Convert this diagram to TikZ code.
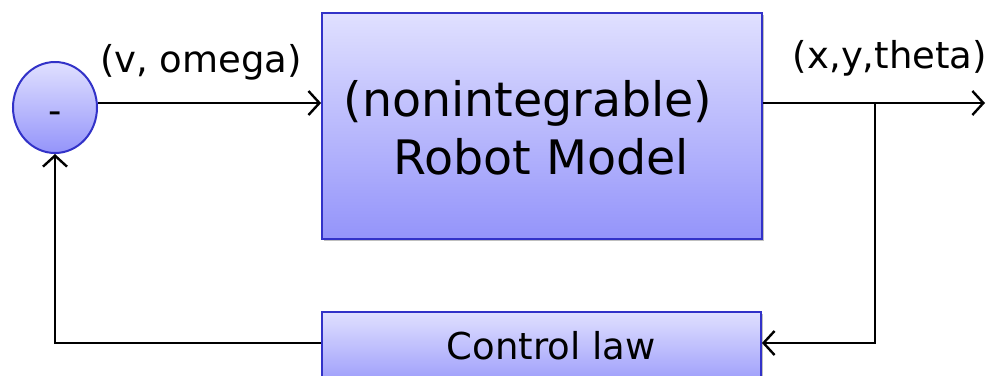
\documentclass[tikz,border=0pt]{standalone}
\usepackage{fontspec}
\setmainfont{DejaVu Sans}
\usetikzlibrary{shapes.geometric,shadows,arrows.meta}
\definecolor{boxtop}{RGB}{224,224,255}
\definecolor{boxbot}{RGB}{148,148,250}
\definecolor{boxline}{RGB}{50,50,200}
\begin{document}
\begin{tikzpicture}[x=1pt,y=-1pt,
  blockbox/.style={draw=boxline, line width=1.8pt, top color=boxtop, bottom color=boxbot,
    drop shadow={shadow xshift=2pt, shadow yshift=-2pt, opacity=0.25, fill=black}, inner sep=0pt},
  sumcirc/.style={ellipse, draw=boxline, line width=2pt, top color=boxtop, bottom color=boxbot,
    minimum width=84pt, minimum height=91pt, inner sep=0pt},
  conn/.style={line width=2.4pt, draw=black},
  arr/.style={conn, -{Straight Barb[length=11pt,width=24pt,line width=2.4pt]}},
  lbl/.style={font=\fontsize{37}{44}\selectfont, inner sep=0pt, anchor=base},
  big/.style={font=\fontsize{47.5}{57}\selectfont, inner sep=0pt, anchor=base}
]
\useasboundingbox (0,0) rectangle (998,375);
\fill[white] (0,0) rectangle (998,375);

% nodes
\node[sumcirc] (circ) at (55,107.5) {};
\node[lbl] (minus) at (55,123) {-};
\node[blockbox, minimum width=440pt, minimum height=226pt] (robot) at (542,126) {};
\node[big] (t1) at (528,116) {(nonintegrable)};
\node[big] (t2) at (541,174) {Robot Model};
\node[blockbox, minimum width=439pt, minimum height=80pt] (ctrl) at (541.5,352) {};
\node[lbl] (ctext) at (551,359) {Control law};
\node[lbl] (vin) at (201,72) {(v, omega)};
\node[lbl] (xout) at (890,68) {(x,y,theta)};

% coordinates
\coordinate (sig) at (0,103);
\coordinate (fb) at (0,343);
\coordinate (out) at (985,103);
\coordinate (br) at (875,103);
\coordinate (corner) at (55,343);

% connectors
\draw[arr] (circ.east |- sig) -- (robot.west |- sig);
\draw[arr] (robot.east |- sig) -- (out);
\draw[arr] (br) -- (br |- fb) -- (ctrl.east |- fb);
\draw[arr] (ctrl.west |- fb) -- (corner) -- (circ.south);
\end{tikzpicture}
\end{document}
